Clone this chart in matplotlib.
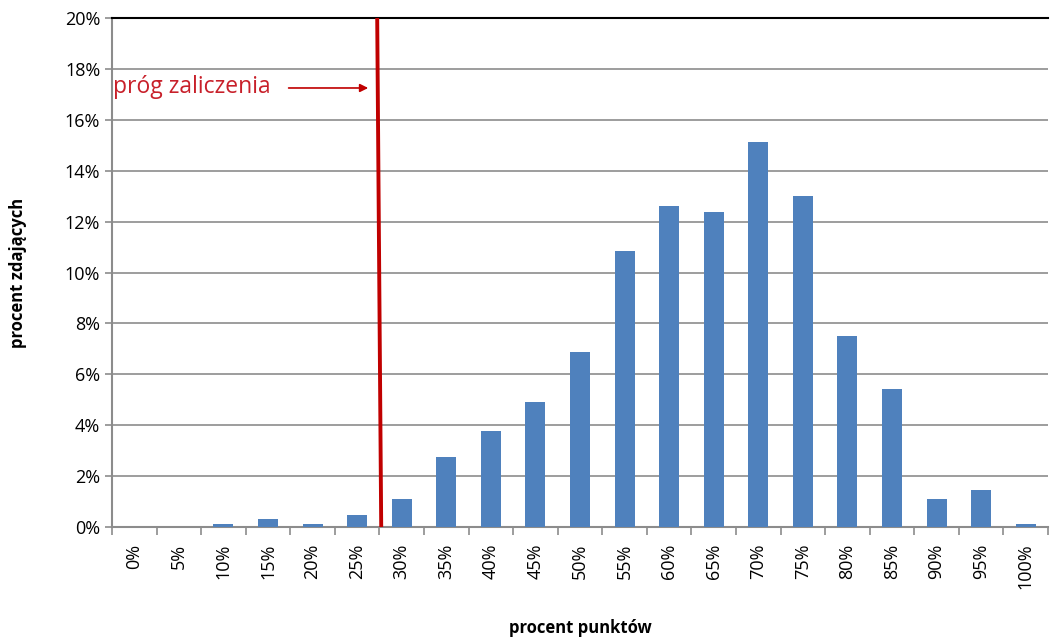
import matplotlib
matplotlib.use("Agg")
import matplotlib.pyplot as plt
import numpy as np

# percent of points (categories) and percent of examinees
categories = ["0%", "5%", "10%", "15%", "20%", "25%", "30%", "35%", "40%", "45%", "50%",
              "55%", "60%", "65%", "70%", "75%", "80%", "85%", "90%", "95%", "100%"]
share = [0.0, 0.0, 0.12, 0.32, 0.12, 0.48, 1.11, 2.77, 3.76, 4.91, 6.89,
         10.85, 12.63, 12.36, 15.13, 12.99, 7.52, 5.43, 1.11, 1.47, 0.12]
y_ticks = [0, 2, 4, 6, 8, 10, 12, 14, 16, 18, 20]
threshold_label = "próg zaliczenia"
threshold_pos = 5.5  # between 25% and 30%

plt.rcParams["font.family"] = ["Open Sans", "DejaVu Sans"]

fig = plt.figure(figsize=(10.51, 6.44), dpi=100)
ax = fig.add_axes([112 / 1051, 1 - 527 / 644, (1048 - 112) / 1051, (527 - 18) / 644])

x = np.arange(len(categories))
ax.bar(x, share, width=0.45, color="#4F81BD", zorder=3)

ax.set_xlim(-0.5, len(categories) - 0.5)
ax.set_ylim(0, 20)
ax.set_yticks(y_ticks)
ax.set_yticklabels([f"{v}%" for v in y_ticks], fontsize=13)
ax.yaxis.grid(True, color="#8c8c8c", linewidth=1.2, zorder=0)
ax.set_axisbelow(True)

ax.set_xticks(x)
ax.set_xticklabels(categories, rotation=90, fontsize=13)
ax.tick_params(axis="x", which="major", length=0, pad=12)
ax.set_xticks(np.arange(-0.5, len(categories)), minor=True)
ax.tick_params(axis="x", which="minor", length=6, width=1.2, color="#8c8c8c", direction="out")
ax.tick_params(axis="y", length=5, width=1.2, color="#8c8c8c", direction="out")

ax.spines["right"].set_visible(False)
ax.spines["top"].set_color("black")
ax.spines["top"].set_linewidth(1.5)
ax.spines["left"].set_color("#8c8c8c")
ax.spines["left"].set_linewidth(1.5)
ax.spines["bottom"].set_color("#8c8c8c")
ax.spines["bottom"].set_linewidth(1.5)

# pass threshold line
ax.plot([threshold_pos - 0.05, threshold_pos + 0.04], [20, 0], color="#C00000",
        linewidth=2.8, zorder=5, clip_on=False, solid_capstyle="butt")
ax.annotate("", xy=(threshold_pos - 0.19, 17.25), xytext=(threshold_pos - 2.1, 17.25),
            arrowprops=dict(arrowstyle="-|>", color="#C00000", lw=1.2, mutation_scale=12))
ax.text(-0.48, 17.3, threshold_label, color="#C8202A", fontsize=16.5, va="center", ha="left")

ax.set_ylabel("procent zdających", fontsize=12, fontweight="bold", labelpad=27)
fig.text((112 + 1048) / 2 / 1051, 1 - 628 / 644, "procent punktów", fontsize=12,
         fontweight="bold", ha="center", va="center")

fig.savefig("out.png", dpi=100, facecolor="white")
